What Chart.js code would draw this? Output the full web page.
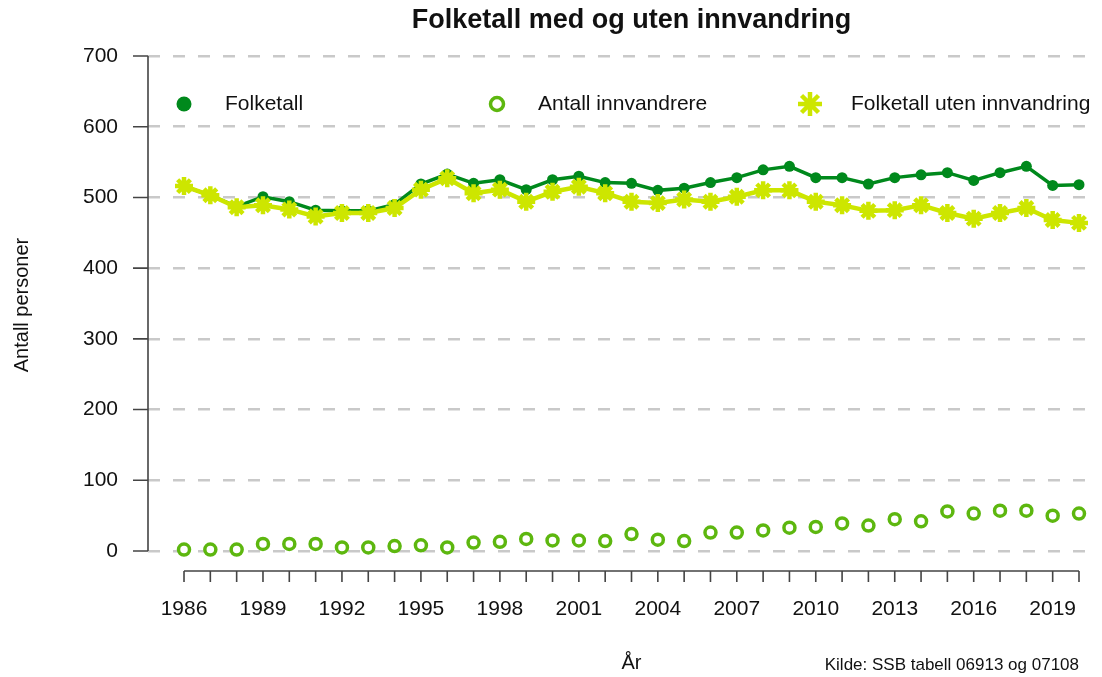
<!DOCTYPE html>
<html>
<head>
<meta charset="utf-8">
<script src="https://cdn.jsdelivr.net/npm/chart.js@4.4.0/dist/chart.umd.min.js"></script>
<style>
html,body{margin:0;padding:0;background:#fff;}
#wrap{width:1102px;height:677px;}
</style>
</head>
<body>
<div id="wrap"><canvas id="c" width="1102" height="677"></canvas></div>
<script>
const years = [1986,1987,1988,1989,1990,1991,1992,1993,1994,1995,1996,1997,1998,1999,2000,2001,2002,2003,2004,2005,2006,2007,2008,2009,2010,2011,2012,2013,2014,2015,2016,2017,2018,2019,2020];
const folketall = [516,503,487,501,494,482,481,481,490,519,533,520,525,511,525,530,521,520,510,513,521,528,539,544,528,528,519,528,532,535,524,535,544,517,518];
const innvandrere = [2,2,2,10,10,10,5,5,7,8,5,12,13,17,15,15,14,24,16,14,26,26,29,33,34,39,36,45,42,56,53,57,57,50,53];
const utenInnvandring = [516,503,486,489,483,473,478,478,485,511,527,506,511,494,508,515,506,494,492,497,494,501,510,510,494,489,481,482,489,478,470,478,485,468,464];
const yTicks = [0,100,200,300,400,500,600,700];
const xLabelYears = [1986,1989,1992,1995,1998,2001,2004,2007,2010,2013,2016,2019];

const TITLE = 'Folketall med og uten innvandring';
const Y_TITLE = 'Antall personer';
const X_TITLE = 'År';
const SOURCE = 'Kilde: SSB tabell 06913 og 07108';

const FONT = '"Liberation Sans", Arial, Helvetica, sans-serif';
const DARK = '#00891c';
const RING = '#5db70f';
const STAR = '#cde600';
const AXIS = '#444444';
const TEXT = '#111111';

const toXY = arr => years.map((yr, i) => ({x: yr, y: arr[i]}));

const overlay = {
  id: 'overlay',
  afterDraw(chart) {
    const ctx = chart.ctx;
    const xs = chart.scales.x, ys = chart.scales.y;
    const ca = chart.chartArea;
    ctx.save();
    // y axis line + ticks
    ctx.strokeStyle = AXIS;
    ctx.lineWidth = 1.6;
    ctx.beginPath();
    ctx.moveTo(ca.left, ys.getPixelForValue(yTicks[0]));
    ctx.lineTo(ca.left, ys.getPixelForValue(yTicks[yTicks.length - 1]));
    yTicks.forEach(v => {
      const p = ys.getPixelForValue(v);
      ctx.moveTo(ca.left - 15, p);
      ctx.lineTo(ca.left, p);
    });
    ctx.stroke();
    // x axis line + ticks
    const ay = ca.bottom + 20;
    ctx.beginPath();
    ctx.moveTo(xs.getPixelForValue(years[0]), ay);
    ctx.lineTo(xs.getPixelForValue(years[years.length - 1]), ay);
    years.forEach(v => {
      const p = xs.getPixelForValue(v);
      ctx.moveTo(p, ay);
      ctx.lineTo(p, ay + 11);
    });
    ctx.stroke();

    // Title
    ctx.fillStyle = TEXT;
    ctx.textAlign = 'center';
    ctx.textBaseline = 'middle';
    const cx = (xs.getPixelForValue(years[0]) + xs.getPixelForValue(years[years.length - 1])) / 2;
    ctx.font = 'bold 27px ' + FONT;
    ctx.fillText(TITLE, cx, 21);
    // x title
    ctx.font = '20px ' + FONT;
    ctx.fillText(X_TITLE, cx, 663);
    // source
    ctx.font = '17px ' + FONT;
    ctx.textAlign = 'right';
    ctx.fillText(SOURCE, xs.getPixelForValue(years[years.length - 1]), 665);
    // y title
    ctx.save();
    ctx.translate(22, 305);
    ctx.rotate(-Math.PI / 2);
    ctx.textAlign = 'center';
    ctx.font = '20px ' + FONT;
    ctx.fillText(Y_TITLE, 0, 0);
    ctx.restore();

    // Legend
    const ly = 104;
    chart.data.datasets.forEach((ds, i) => {
      const mx = ca.left + 36 + i * 313;
      ctx.save();
      ctx.fillStyle = ds.pointBackgroundColor;
      ctx.strokeStyle = ds.pointBorderColor;
      ctx.lineWidth = ds.legendBorderWidth;
      Chart.helpers.drawPoint(ctx, {
        pointStyle: ds.pointStyle,
        radius: ds.legendRadius,
        borderWidth: ds.legendBorderWidth,
        rotation: 0
      }, mx, ly);
      ctx.restore();
      ctx.fillStyle = TEXT;
      ctx.font = '21px ' + FONT;
      ctx.textAlign = 'left';
      ctx.textBaseline = 'middle';
      ctx.fillText(ds.label, mx + 41, ly);
    });
    ctx.restore();
  }
};

new Chart(document.getElementById('c'), {
  type: 'line',
  data: {
    datasets: [
      {
        label: 'Folketall',
        data: toXY(folketall),
        borderColor: DARK,
        backgroundColor: DARK,
        borderWidth: 3.5,
        pointStyle: 'circle',
        pointRadius: 5.5,
        pointBorderWidth: 0,
        pointBackgroundColor: DARK,
        pointBorderColor: DARK,
        legendRadius: 7.5,
        legendBorderWidth: 0,
        order: 2,
        clip: false,
        tension: 0
      },
      {
        label: 'Antall innvandrere',
        data: toXY(innvandrere),
        showLine: false,
        borderColor: RING,
        pointStyle: 'circle',
        pointRadius: 5.5,
        pointBorderWidth: 3.5,
        pointBorderColor: RING,
        pointBackgroundColor: '#ffffff',
        legendRadius: 6.5,
        legendBorderWidth: 3.5,
        order: 1,
        clip: false
      },
      {
        label: 'Folketall uten innvandring',
        data: toXY(utenInnvandring),
        borderColor: STAR,
        backgroundColor: STAR,
        borderWidth: 4.5,
        pointStyle: 'star',
        pointRadius: 9,
        pointBorderWidth: 4.5,
        pointBorderColor: STAR,
        pointBackgroundColor: STAR,
        legendRadius: 12,
        legendBorderWidth: 4.5,
        order: 0,
        clip: false,
        tension: 0
      }
    ]
  },
  options: {
    responsive: false,
    animation: false,
    devicePixelRatio: 1,
    layout: {autoPadding: false, padding: {top: 56, right: 7, left: 0, bottom: 0}},
    plugins: {
      legend: {display: false},
      tooltip: {enabled: false},
      title: {display: false}
    },
    scales: {
      x: {
        type: 'linear',
        min: 1984.632,
        max: 2020.608,
        afterFit(s) { s.height = 126; s.paddingLeft = 0; s.paddingRight = 0; },
        afterBuildTicks(s) { s.ticks = years.map(v => ({value: v})); },
        grid: {display: false, drawTicks: false},
        border: {display: false},
        ticks: {
          autoSkip: false,
          maxRotation: 0,
          padding: 46,
          color: TEXT,
          font: {family: FONT, size: 21},
          callback: v => xLabelYears.includes(v) ? String(v) : ''
        }
      },
      y: {
        min: 0,
        max: 700,
        afterFit(s) { s.width = 148; s.paddingTop = 0; s.paddingBottom = 0; },
        afterBuildTicks(s) { s.ticks = yTicks.map(v => ({value: v})); },
        grid: {color: '#c9c9c9', lineWidth: 2.5, drawTicks: false},
        border: {display: false, dash: [12, 13]},
        ticks: {
          padding: 30,
          color: TEXT,
          font: {family: FONT, size: 21}
        }
      }
    }
  },
  plugins: [overlay]
});
</script>
</body>
</html>
